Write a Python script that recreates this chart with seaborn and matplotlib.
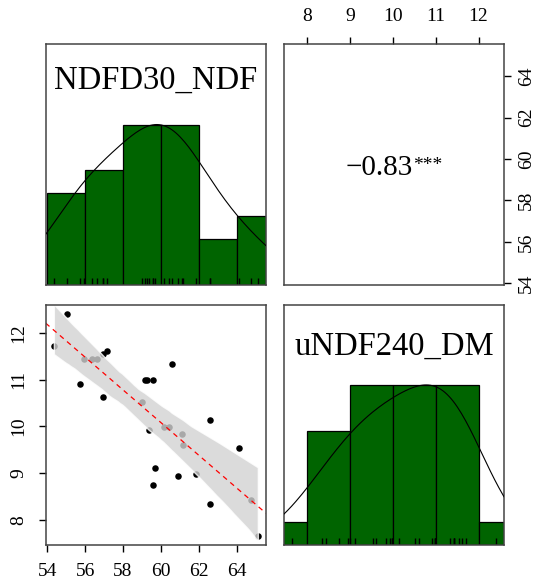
import numpy as np
import matplotlib
matplotlib.use("Agg")
import matplotlib.pyplot as plt
import seaborn as sns

# values (x = NDFD30_NDF, y = uNDF240_DM)
ndfd30_ndf = [54.35, 55.02, 55.73, 55.94, 56.38, 56.65, 56.94, 57.15, 56.94, 58.99,
              59.16, 59.25, 59.57, 60.58, 59.38, 59.69, 59.57, 60.17, 60.42, 60.89,
              61.09, 61.16, 61.85, 62.57, 62.57, 64.10, 64.76, 65.11]
undf240_dm = [11.71, 12.41, 10.91, 11.43, 11.43, 11.43, 11.55, 11.61, 10.62, 10.52,
              10.99, 10.99, 10.99, 11.33, 9.93, 9.12, 8.74, 9.99, 9.99, 8.95,
              9.83, 9.61, 8.99, 10.14, 8.35, 9.54, 8.43, 7.65]

ndf_breaks = [54, 56, 58, 60, 62, 64, 66]
dm_breaks = [7, 8, 9, 10, 11, 12, 13]
ndf_ticks = [54, 56, 58, 60, 62, 64]
dm_ticks = [8, 9, 10, 11, 12]
corr_text = "\u22120.83"
corr_stars = "***"

sns.set_style("ticks")
plt.rcParams["font.family"] = ["Liberation Serif", "DejaVu Serif"]
plt.rcParams["text.color"] = "black"
plt.rcParams["xtick.color"] = "black"
plt.rcParams["ytick.color"] = "black"

x = np.array(ndfd30_ndf)
y = np.array(undf240_dm)


def padded(v):
    lo, hi = v.min(), v.max()
    pad = 0.04 * (hi - lo)
    return lo - pad, hi + pad


xlim = padded(x)
ylim = padded(y)

fig = plt.figure(figsize=(5.35, 5.85), dpi=100)
W, H = 535, 585
col_l = [45.7, 284.0]
row_t = [44.3, 304.7]
pw, ph = 220.3, 240.7
axes = {}
for r in range(2):
    for c in range(2):
        axes[r, c] = fig.add_axes([col_l[c] / W, 1 - (row_t[r] + ph) / H, pw / W, ph / H])

for ax in axes.values():
    for s in ax.spines.values():
        s.set_color("#444444")
        s.set_linewidth(1.1)
    ax.tick_params(length=5, width=1, colors="black", labelsize=14)


def diag_panel(ax, v, breaks, lim, label, label_y):
    sns.histplot(x=v, bins=breaks, color="darkgreen", alpha=1, edgecolor="black",
                 linewidth=0.9, ax=ax)
    counts, _ = np.histogram(v, bins=breaks)
    ax.set_ylim(0, counts.max() * 1.5)
    sns.rugplot(x=v, height=0.03, color="black", lw=0.9, ax=ax)
    # smooth density, scaled so its peak meets the tallest bar
    ax2 = ax.twinx()
    sns.kdeplot(x=v, bw_adjust=1.3, color="black", lw=0.8, ax=ax2)
    peak = ax2.lines[0].get_ydata().max()
    ax2.set_ylim(0, peak * 1.5)
    ax2.set_axis_off()
    ax.set_xlim(lim)
    ax2.set_xlim(lim)
    ax.set_xticks([])
    ax.set_yticks([])
    ax.set_xlabel("")
    ax.set_ylabel("")
    ax.text(0.5, label_y, label, transform=ax.transAxes, ha="center", va="center",
            fontsize=23.5, zorder=5)


diag_panel(axes[0, 0], x, ndf_breaks, xlim, "NDFD30_NDF", 0.848)
diag_panel(axes[1, 1], y, dm_breaks, ylim, "uNDF240_DM", 0.828)

# lower panel: scatter, confidence band, dashed fit line
ax = axes[1, 0]
ax.set_xlim(xlim)
ax.set_ylim(ylim)
sns.regplot(x=x, y=y, ax=ax, color="black", ci=99, seed=3,
            scatter_kws=dict(s=22, alpha=1, linewidths=0),
            line_kws=dict(alpha=0))
band = ax.collections[-1]
band.set_facecolor("#d3d3d3")
band.set_alpha(0.8)
sns.regplot(x=x, y=y, ax=ax, scatter=False, ci=None, truncate=False, color="red",
            line_kws=dict(ls=(0, (4, 3.5)), lw=0.9))
ax.set_xlim(xlim)
ax.set_ylim(ylim)
ax.set_xticks(ndf_ticks)
ax.set_yticks(dm_ticks)
ax.tick_params(axis="x", pad=8)
ax.tick_params(axis="y", pad=8, labelrotation=90)
plt.setp(ax.get_yticklabels(), va="center")
ax.set_xlabel("")
ax.set_ylabel("")

# upper panel: correlation
ax = axes[0, 1]
ax.set_xlim(ylim)
ax.set_ylim(xlim)
ax.set_xticks(dm_ticks)
ax.set_yticks(ndf_ticks)
ax.xaxis.tick_top()
ax.yaxis.tick_right()
ax.tick_params(axis="x", pad=9)
ax.tick_params(axis="y", pad=5, labelrotation=90)
plt.setp(ax.get_yticklabels(), va="center")
ax.text(0.586, 0.457, corr_text, transform=ax.transAxes, ha="right", va="baseline",
        fontsize=21)
ax.text(0.586, 0.479, corr_stars, transform=ax.transAxes, ha="left", va="baseline",
        fontsize=14)

fig.savefig("out.png", dpi=100)
